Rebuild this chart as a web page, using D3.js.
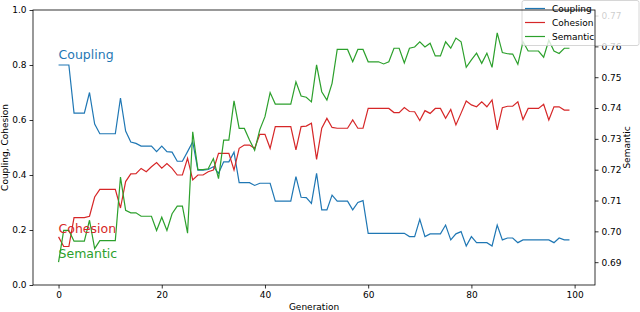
<!DOCTYPE html>
<html>
<head>
<meta charset="utf-8">
<script src="https://cdn.jsdelivr.net/npm/d3@7"></script>
<style>
  body { margin: 0; background: #fff; }
  text { font-family: "DejaVu Sans", sans-serif; }
</style>
</head>
<body>
<div id="chart"></div>
<script>
var coupling = [0.80, 0.80, 0.80, 0.625, 0.625, 0.625, 0.70, 0.585, 0.55, 0.55,
    0.55, 0.55, 0.68, 0.56, 0.52, 0.515, 0.505, 0.505, 0.505, 0.485,
    0.505, 0.485, 0.483, 0.45, 0.45, 0.485, 0.521, 0.418, 0.418, 0.42,
    0.43, 0.406, 0.448, 0.448, 0.483, 0.372, 0.372, 0.372, 0.362, 0.37,
    0.37, 0.37, 0.305, 0.305, 0.305, 0.305, 0.394, 0.319, 0.318, 0.297,
    0.406, 0.273, 0.273, 0.327, 0.305, 0.305, 0.305, 0.273, 0.30, 0.307,
    0.188, 0.188, 0.188, 0.188, 0.188, 0.188, 0.188, 0.188, 0.176, 0.176,
    0.239, 0.176, 0.186, 0.186, 0.186, 0.218, 0.164, 0.186, 0.194, 0.142,
    0.176, 0.154, 0.154, 0.154, 0.142, 0.218, 0.164, 0.171, 0.171, 0.154,
    0.164, 0.164, 0.164, 0.164, 0.164, 0.164, 0.154, 0.171, 0.164, 0.164];

var cohesion = [0.175, 0.14, 0.14, 0.245, 0.245, 0.245, 0.25, 0.32, 0.348, 0.348,
    0.348, 0.348, 0.28, 0.376, 0.404, 0.405, 0.424, 0.412, 0.43, 0.445,
    0.425, 0.442, 0.424, 0.40, 0.40, 0.461, 0.382, 0.40, 0.40, 0.412,
    0.418, 0.479, 0.479, 0.479, 0.418, 0.497, 0.509, 0.509, 0.497, 0.548,
    0.548, 0.497, 0.576, 0.576, 0.576, 0.576, 0.491, 0.576, 0.578, 0.588,
    0.457, 0.57, 0.606, 0.573, 0.57, 0.57, 0.57, 0.60, 0.57, 0.57,
    0.642, 0.642, 0.642, 0.642, 0.642, 0.627, 0.627, 0.645, 0.631, 0.63,
    0.598, 0.634, 0.624, 0.642, 0.642, 0.606, 0.638, 0.582, 0.625, 0.669,
    0.655, 0.648, 0.666, 0.648, 0.673, 0.564, 0.645, 0.65, 0.65, 0.666,
    0.602, 0.642, 0.642, 0.642, 0.657, 0.60, 0.648, 0.648, 0.636, 0.636];

var semantic = [0.69, 0.7003, 0.7003, 0.6968, 0.6968, 0.6968, 0.7036, 0.6944, 0.697, 0.697,
    0.697, 0.697, 0.7176, 0.7068, 0.706, 0.706, 0.7049, 0.7049, 0.7049, 0.7003,
    0.7046, 0.7003, 0.7057, 0.7082, 0.7082, 0.6994, 0.7323, 0.72, 0.72, 0.7203,
    0.7236, 0.7171, 0.7296, 0.7296, 0.7423, 0.7334, 0.7334, 0.7296, 0.7263, 0.733,
    0.7372, 0.745, 0.7413, 0.7413, 0.7413, 0.7413, 0.7485, 0.7439, 0.7435, 0.742,
    0.754, 0.7453, 0.7426, 0.748, 0.759, 0.759, 0.759, 0.755, 0.759, 0.759,
    0.755, 0.755, 0.755, 0.7543, 0.755, 0.7594, 0.7594, 0.7546, 0.7594, 0.7598,
    0.7615, 0.7598, 0.761, 0.7569, 0.7569, 0.7615, 0.7594, 0.7627, 0.7615, 0.7532,
    0.7556, 0.7578, 0.7545, 0.7578, 0.7532, 0.7644, 0.758, 0.7576, 0.7575, 0.7542,
    0.7615, 0.7585, 0.7585, 0.7585, 0.7565, 0.762, 0.7585, 0.7577, 0.7594, 0.7594];

var xTicks = [0, 20, 40, 60, 80, 100];
var leftTicks = [0.0, 0.2, 0.4, 0.6, 0.8, 1.0];
var rightTicks = [0.69, 0.70, 0.71, 0.72, 0.73, 0.74, 0.75, 0.76, 0.77];
var seriesNames = ["Coupling", "Cohesion", "Semantic"];

var W = 640, H = 312;
var margin = {top: 10, right: 45, bottom: 27, left: 33},
    width = W - margin.left - margin.right,
    height = H - margin.top - margin.bottom;

var color = d3.scaleOrdinal()
    .domain(seriesNames)
    .range(["#1f77b4", "#d62728", "#2ca02c"]);

var svg = d3.select("#chart")
    .append("svg")
    .attr("width", W)
    .attr("height", H)
    .append("g")
    .attr("transform", "translate(" + margin.left + "," + margin.top + ")");

var x = d3.scaleLinear().domain([-4.95, 103.95]).range([0, width]);
var yL = d3.scaleLinear().domain([0, 1]).range([height, 0]);
var yR = d3.scaleLinear().domain([0.6826, 0.7718]).range([height, 0]);

// lines
var lineL = d3.line().x(function(d, i) { return x(i); }).y(function(d) { return yL(d); });
var lineR = d3.line().x(function(d, i) { return x(i); }).y(function(d) { return yR(d); });

svg.append("path").datum(coupling).attr("d", lineL)
    .style("fill", "none").style("stroke", color("Coupling")).style("stroke-width", 1.2);
svg.append("path").datum(cohesion).attr("d", lineL)
    .style("fill", "none").style("stroke", color("Cohesion")).style("stroke-width", 1.2);
svg.append("path").datum(semantic).attr("d", lineR)
    .style("fill", "none").style("stroke", color("Semantic")).style("stroke-width", 1.2);

// in-plot labels
var labels = [
    {name: "Coupling", v: 0.80, yo: -6},
    {name: "Cohesion", v: 0.175, yo: -4},
    {name: "Semantic", v: 0.10, yo: 0.5}
];
svg.selectAll("labelText")
    .data(labels).enter()
    .append("text")
    .attr("x", x(0))
    .attr("y", function(d) { return yL(d.v) + d.yo; })
    .style("font-size", "12.5px")
    .style("fill", function(d) { return color(d.name); })
    .text(function(d) { return d.name; });

// axes
function styleAxis(g) {
    g.selectAll("text").style("font-size", "9px").style("fill", "#000")
        .style("font-family", "DejaVu Sans, sans-serif");
    g.selectAll("line").style("stroke", "#000").style("stroke-width", 0.8);
}

svg.append("g")
    .attr("transform", "translate(0," + height + ")")
    .call(d3.axisBottom(x).tickValues(xTicks).tickFormat(d3.format("d")).tickSize(3.5).tickSizeOuter(0).tickPadding(3))
    .call(styleAxis)
    .call(function(g) { g.select(".domain").remove(); });

svg.append("g")
    .call(d3.axisLeft(yL).tickValues(leftTicks).tickFormat(d3.format(".1f")).tickSize(3.5).tickSizeOuter(0).tickPadding(3))
    .call(styleAxis)
    .call(function(g) { g.select(".domain").remove(); });

svg.append("g")
    .attr("transform", "translate(" + width + ",0)")
    .call(d3.axisRight(yR).tickValues(rightTicks).tickFormat(d3.format(".2f")).tickSize(3.5).tickSizeOuter(0).tickPadding(3))
    .call(styleAxis)
    .call(function(g) { g.select(".domain").remove(); });

// axis titles
svg.append("text")
    .attr("transform", "translate(" + (-25) + "," + (height / 2) + ") rotate(-90)")
    .attr("text-anchor", "middle")
    .style("font-size", "9px")
    .text("Coupling, Cohesion");

svg.append("text")
    .attr("transform", "translate(" + (width + 35) + "," + (height / 2) + ") rotate(-90)")
    .attr("text-anchor", "middle")
    .style("font-size", "9px")
    .text("Semantic");

svg.append("text")
    .attr("x", width / 2)
    .attr("y", height + 25)
    .attr("text-anchor", "middle")
    .style("font-size", "9px")
    .text("Generation");

// legend (semi transparent box over the right tick labels)
var legend = svg.append("g").attr("transform", "translate(" + (489) + "," + (-10) + ")");
legend.append("rect")
    .attr("x", 0).attr("y", 0.5)
    .attr("width", 117).attr("height", 45)
    .attr("rx", 2)
    .style("fill", "rgba(255,255,255,0.8)")
    .style("stroke", "#ccc")
    .style("stroke-width", 0.8);
var items = legend.selectAll("legItem")
    .data(seriesNames).enter()
    .append("g")
    .attr("transform", function(d, i) { return "translate(0," + (8.5 + i * 14) + ")"; });
items.append("line")
    .attr("x1", 3).attr("x2", 23)
    .style("stroke", function(d) { return color(d); })
    .style("stroke-width", 1.2);
items.append("text")
    .attr("x", 30).attr("y", 3.2)
    .style("font-size", "9px")
    .text(function(d) { return d; });

// frame
svg.append("rect")
    .attr("width", width).attr("height", height)
    .style("fill", "none").style("stroke", "#000").style("stroke-width", 0.8);
</script>
</body>
</html>
